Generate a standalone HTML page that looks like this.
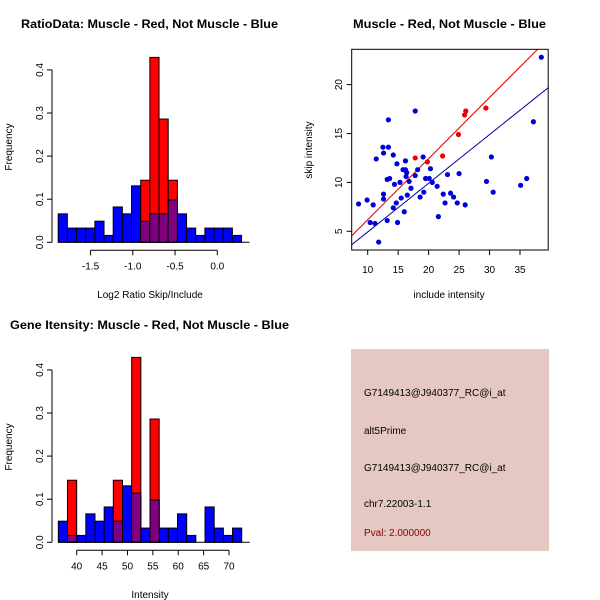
<!DOCTYPE html>
<html><head><meta charset="utf-8"><style>
body{margin:0;background:#fff}
svg{display:block;font-family:"Liberation Sans",sans-serif}
</style></head><body>
<svg id="c" width="600" height="600" xmlns="http://www.w3.org/2000/svg">
<rect width="600" height="600" fill="#fff"/>
<text x="21" y="28" textLength="257" lengthAdjust="spacingAndGlyphs" font-size="12" font-weight="bold">RatioData: Muscle - Red, Not Muscle - Blue</text>
<text x="353" y="28" textLength="193" lengthAdjust="spacingAndGlyphs" font-size="12" font-weight="bold">Muscle - Red, Not Muscle - Blue</text>
<text x="10" y="329" textLength="279" lengthAdjust="spacingAndGlyphs" font-size="12" font-weight="bold">Gene Itensity: Muscle - Red, Not Muscle - Blue</text>
<text x="150" y="298" text-anchor="middle" font-size="10">Log2 Ratio Skip/Include</text>
<text x="150" y="598" text-anchor="middle" font-size="10">Intensity</text>
<text x="449" y="298" text-anchor="middle" font-size="10">include intensity</text>
<text transform="translate(12,147) rotate(-90)" text-anchor="middle" font-size="10">Frequency</text>
<text transform="translate(12,447) rotate(-90)" text-anchor="middle" font-size="10">Frequency</text>
<text transform="translate(312,150) rotate(-90)" text-anchor="middle" font-size="10">skip intensity</text>
<g>
<rect x="351" y="349" width="198" height="202" fill="#e5c8c1"/>
<text x="364" y="396" font-size="10">G7149413@J940377_RC@i_at</text>
<text x="364" y="434" font-size="10">alt5Prime</text>
<text x="364" y="471" font-size="10">G7149413@J940377_RC@i_at</text>
<text x="364" y="507" font-size="10">chr7.22003-1.1</text>
<text x="364" y="536" font-size="10" fill="#8b0000">Pval: 2.000000</text>
</g>
</svg>
<script>
// Ratio histogram data
const ratioStart = -1.883, ratioWidth = 0.1085;
const ratioBlue = [0.066,0.033,0.033,0.033,0.049,0.016,0.082,0.066,0.131,0.049,0.066,0.066,0.098,0.066,0.033,0.016,0.033,0.033,0.033,0.016];
const ratioRed  = [0,0,0,0,0,0,0,0,0,0.144,0.429,0.286,0.144,0,0,0,0,0,0,0];
const ratioTicks = [-1.5,-1.0,-0.5,0.0];
const ratioTickLabels = ["-1.5","-1.0","-0.5","0.0"];
// Intensity histogram data
const intStart = 36.38, intWidth = 1.806;
const intBlue = [0.049,0.016,0.016,0.066,0.049,0.082,0.049,0.131,0.114,0.033,0.098,0.033,0.033,0.066,0.016,0,0.082,0.033,0.016,0.033];
const intRed  = [0,0.144,0,0,0,0,0.144,0,0.429,0,0.286,0,0,0,0,0,0,0,0,0];
const intTicks = [40,45,50,55,60,65,70];
const freqTicks = [0,0.1,0.2,0.3,0.4];
const freqTickLabels = ["0.0","0.1","0.2","0.3","0.4"];
// Scatter data
const blueX = [8.5,9.9,10.4,10.9,11.2,11.4,11.8,12.5,12.6,12.6,12.6,13.2,13.4,13.4,13.2,13.6,14.2,14.2,14.4,14.7,14.8,14.9,15.3,15.5,15.8,16.0,16.2,16.2,16.3,16.4,16.5,16.8,17.1,17.8,17.8,18.2,18.6,19.1,19.2,19.5,20.1,20.3,20.6,21.4,21.6,22.4,22.7,23.1,23.6,24.1,24.7,25.0,26.0,29.5,30.3,30.6,35.1,36.1,37.2,38.5];
const blueY = [7.8,8.2,5.9,7.7,5.8,12.4,3.9,13.6,13.0,8.8,8.3,6.1,13.6,16.4,10.3,10.4,12.8,7.4,9.8,7.9,11.9,5.9,10.0,8.4,11.3,7.0,12.2,11.3,10.6,11.0,8.7,10.1,9.4,17.3,10.7,11.3,8.5,12.6,9.0,10.4,10.4,11.4,10.0,9.6,6.5,8.8,7.9,10.8,8.9,8.5,7.9,10.9,7.7,10.1,12.6,9.0,9.7,10.4,16.2,22.8];
const redX = [17.8,19.8,22.3,24.9,25.9,26.1,29.4];
const redY = [12.5,12.1,12.7,14.9,16.9,17.3,17.6];
const redSlope = 0.625, redIntercept = -0.07;
const blueSlope = 0.498, blueIntercept = -0.05;
const scXTicks = [10,15,20,25,30,35];
const scYTicks = [5,10,15,20];

const svg = document.getElementById('c');
const NS = 'http://www.w3.org/2000/svg';
function mk(tag, attrs, parent){const e=document.createElementNS(NS,tag);for(const k in attrs)e.setAttribute(k,attrs[k]);(parent||svg).appendChild(e);return e;}

function hist(name, y0, start, width, blue, red, ticks, labels, xOfVal){
  const g = mk('g',{});
  
  
  const fy = v => y0 - v*431;
  const bx = i => xOfVal(start + i*width);
  blue.forEach((v,i)=>{ if(v<=0) return;
    const r = mk('rect',{x:bx(i),y:fy(v),width:bx(i+1)-bx(i),height:y0-fy(v),fill:'#0000ff',stroke:'#000','stroke-width':1},g);
    
    
  });
  red.forEach((v,i)=>{ if(v<=0) return;
    const r = mk('rect',{x:bx(i),y:fy(v),width:bx(i+1)-bx(i),height:y0-fy(v),fill:'#ff0000',stroke:'#000','stroke-width':1},g);
    
    
    const m = Math.min(v, blue[i]);
    if(m>0){
      const p = mk('rect',{x:bx(i),y:fy(m),width:bx(i+1)-bx(i),height:y0-fy(m),fill:'#800080',stroke:'#000','stroke-width':1},g);
      
      
    }
  });
  const ax=52;
  mk('line',{x1:ax,x2:ax,y1:fy(0),y2:fy(0.4),stroke:'#000'},g);
  freqTicks.forEach((t,i)=>{
    mk('line',{x1:ax-5,x2:ax,y1:fy(t),y2:fy(t),stroke:'#000'},g);
    const tx = mk('text',{transform:`translate(${ax-9},${fy(t)}) rotate(-90)`,'text-anchor':'middle','font-size':10},g);
    tx.textContent = freqTickLabels[i];
    
    
  });
  mk('line',{x1:bx(0),x2:bx(blue.length)+8,y1:y0,y2:y0,stroke:'#000'},g);
  const ay = y0+8;
  mk('line',{x1:xOfVal(ticks[0]),x2:xOfVal(ticks[ticks.length-1]),y1:ay,y2:ay,stroke:'#000'},g);
  ticks.forEach((t,i)=>{
    mk('line',{x1:xOfVal(t),x2:xOfVal(t),y1:ay,y2:ay+5,stroke:'#000'},g);
    const tx = mk('text',{x:xOfVal(t),y:ay+19,'text-anchor':'middle','font-size':10},g);
    tx.textContent = labels[i];
    
    
  });
}
hist('ratio-histogram', 242.3, ratioStart, ratioWidth, ratioBlue, ratioRed, ratioTicks, ratioTickLabels, v => 217.3 + v*84.5);
hist('intensity-histogram', 542.3, intStart, intWidth, intBlue, intRed, intTicks, intTicks.map(String), v => 76.7 + (v-40)*5.077);

const sx = v => 367.7 + (v-10)*6.092;
const sy = v => 231.3 - (v-5)*9.78;
const sg = mk('g',{});


const clip = mk('clipPath',{id:'scClip'},sg);
mk('rect',{x:351.7,y:49.3,width:196.5,height:200.7},clip);
const xmin=7.4, xmax=39.7;
const rl = mk('line',{x1:sx(xmin),y1:sy(redIntercept+redSlope*xmin),x2:sx(xmax),y2:sy(redIntercept+redSlope*xmax),stroke:'#cc0000','stroke-width':1,'clip-path':'url(#scClip)'},sg);


const bl = mk('line',{x1:sx(xmin),y1:sy(blueIntercept+blueSlope*xmin),x2:sx(xmax),y2:sy(blueIntercept+blueSlope*xmax),stroke:'#0000aa','stroke-width':1,'clip-path':'url(#scClip)'},sg);


blueX.forEach((x,i)=>{
  const c = mk('circle',{cx:sx(x),cy:sy(blueY[i]),r:2.6,fill:'#0000dd'},sg);
  
  
});
redX.forEach((x,i)=>{
  const c = mk('circle',{cx:sx(x),cy:sy(redY[i]),r:2.6,fill:'#ee0000'},sg);
  
  
});
mk('rect',{x:351.7,y:49.3,width:196.5,height:200.7,fill:'none',stroke:'#000'},sg);
scXTicks.forEach(t=>{
  mk('line',{x1:sx(t),x2:sx(t),y1:250,y2:255,stroke:'#000'},sg);
  const tx = mk('text',{x:sx(t),y:273,'text-anchor':'middle','font-size':10},sg);
  tx.textContent = String(t);
  
  
});
scYTicks.forEach(t=>{
  mk('line',{x1:346.7,x2:351.7,y1:sy(t),y2:sy(t),stroke:'#000'},sg);
  const tx = mk('text',{transform:`translate(${342},${sy(t)}) rotate(-90)`,'text-anchor':'middle','font-size':10},sg);
  tx.textContent = String(t);
  
  
});
</script>
</body></html>
